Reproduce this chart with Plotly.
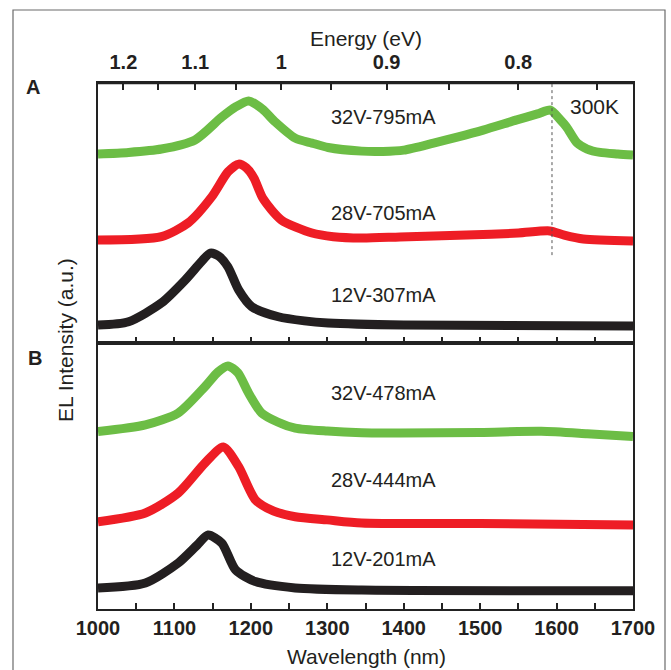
import plotly.graph_objects as go

# ---------------- data (offset-stacked EL intensity, a.u.) ----------------
# Panel A
a_green_x = [1000, 1040, 1083, 1127, 1162, 1180, 1197, 1215, 1232, 1258, 1280, 1301, 1345, 1373, 1400,
             1439, 1470, 1504, 1548, 1575, 1592, 1605, 1613, 1627, 1640, 1657, 1680, 1700]
a_green_y = [72.7, 73.3, 74.6, 78.1, 86.9, 90.8, 93.1, 90.0, 85.0, 78.8, 76.9, 75.2, 73.8, 73.7, 74.2,
             76.9, 79.2, 81.9, 85.8, 88.1, 89.6, 85.8, 83.1, 76.9, 74.6, 73.3, 72.7, 72.3]
a_red_x = [1000, 1083, 1118, 1149, 1170, 1184, 1194, 1204, 1216, 1240, 1280, 1308, 1345, 1395, 1482,
           1550, 1591, 1610, 1635, 1700]
a_red_y = [39.6, 40.9, 46.2, 56.3, 65.8, 68.8, 67.4, 63.5, 55.5, 47.3, 42.3, 40.9, 40.4, 40.8, 41.5,
           42.3, 43.1, 41.5, 40.0, 39.2]
a_black_x = [1000, 1040, 1083, 1114, 1135, 1147, 1158, 1170, 1184, 1201, 1236, 1270, 1301, 1400, 1700]
a_black_y = [6.9, 8.2, 15.4, 24.2, 31.2, 34.6, 33.4, 29.3, 20.4, 14.0, 10.1, 8.5, 7.7, 6.9, 6.5]

# Panel B
b_green_x = [1000, 1062, 1105, 1140, 1157, 1170, 1183, 1197, 1214, 1235, 1258, 1300, 1345, 1395, 1500,
             1580, 1640, 1700]
b_green_y = [66.7, 69.2, 73.7, 83.6, 89.1, 91.4, 88.8, 81.2, 73.7, 70.3, 68.0, 66.9, 66.3, 66.2, 66.4,
             66.8, 65.9, 64.8]
b_red_x = [1000, 1062, 1105, 1140, 1164, 1184, 1206, 1230, 1258, 1300, 1345, 1500, 1700]
b_red_y = [32.8, 36.1, 43.6, 54.9, 60.9, 53.5, 41.0, 36.8, 34.7, 33.5, 32.3, 32.1, 31.6]
b_black_x = [1000, 1062, 1105, 1130, 1144, 1162, 1180, 1206, 1258, 1345, 1700]
b_black_y = [7.9, 9.8, 17.3, 24.1, 27.8, 24.8, 14.7, 10.3, 7.9, 7.1, 6.9]

labels_a = ["32V-795mA", "28V-705mA", "12V-307mA"]
labels_a_y = [86.9, 50.0, 18.5]
labels_b = ["32V-478mA", "28V-444mA", "12V-201mA"]
labels_b_y = [81.2, 48.5, 18.8]
label_x = 1373

marker_wl = 1594          # dotted marker wavelength (nm)
marker_y = [33.8, 100]

wl_ticks = list(range(1000, 1701, 50))
wl_text = [str(v) if v % 100 == 0 else "" for v in wl_ticks]
energy_major = [1.2, 1.1, 1.0, 0.9, 0.8]
energy_major_text = ["1.2", "1.1", "1", "0.9", "0.8"]
energy_minor = [1.15, 1.05, 0.95, 0.85, 0.75]

# ---------------- styling ----------------
GREEN = "#6cbd45"
RED = "#ee1d25"
BLACK = "#231f20"
AX = "#222222"
FONT = "Liberation Sans, Arial, sans-serif"
HC = 1239.84

fig = go.Figure()

def add(x, y, color, xa, ya):
    fig.add_trace(go.Scatter(x=x, y=y, mode="lines", xaxis=xa, yaxis=ya,
                             line=dict(color=color, width=9, shape="spline", smoothing=0.7),
                             showlegend=False, hoverinfo="skip"))

add(a_green_x, a_green_y, GREEN, "x", "y")
add(a_red_x, a_red_y, RED, "x", "y")
add(a_black_x, a_black_y, BLACK, "x", "y")
add(b_green_x, b_green_y, GREEN, "x2", "y2")
add(b_red_x, b_red_y, RED, "x2", "y2")
add(b_black_x, b_black_y, BLACK, "x2", "y2")

# dotted marker line
fig.add_trace(go.Scatter(x=[marker_wl, marker_wl], y=marker_y, mode="lines", xaxis="x", yaxis="y",
                         line=dict(color="#555555", width=1, dash="dot"), showlegend=False,
                         hoverinfo="skip"))
# invisible traces so the energy overlay axes get drawn
fig.add_trace(go.Scatter(x=[marker_wl], y=[marker_y[0]], mode="markers", xaxis="x3", yaxis="y",
                         marker=dict(opacity=0, size=1), showlegend=False, hoverinfo="skip"))
fig.add_trace(go.Scatter(x=[marker_wl], y=[marker_y[0]], mode="markers", xaxis="x4", yaxis="y",
                         marker=dict(opacity=0, size=1), showlegend=False, hoverinfo="skip"))

split = 266 / 526
common_x = dict(range=[1000, 1700], showline=True, linecolor=AX, linewidth=2,
                showgrid=False, zeroline=False, ticks="inside", ticklen=6, tickwidth=1.5,
                tickcolor=AX, tickvals=wl_ticks, ticktext=wl_text)

fig.update_layout(
    width=671, height=670,
    margin=dict(l=98, r=38, t=83, b=61),
    paper_bgcolor="white", plot_bgcolor="white",
    font=dict(family=FONT, color=BLACK),
    xaxis=dict(**common_x, domain=[0, 1], anchor="y", mirror=True, showticklabels=False),
    yaxis=dict(domain=[split, 1], range=[0, 100], anchor="x", showline=True, linecolor=AX,
               linewidth=2, mirror=True, showticklabels=False, ticks="", showgrid=False,
               zeroline=False),
    xaxis2=dict(**common_x, domain=[0, 1], anchor="y2", mirror=True, showticklabels=True,
                tickfont=dict(size=20, family=FONT, weight="bold", color=BLACK)),
    yaxis2=dict(domain=[0, split], range=[0, 100], anchor="x2", showline=True, linecolor=AX,
                linewidth=2, mirror=True, showticklabels=False, ticks="", showgrid=False,
                zeroline=False),
    xaxis3=dict(overlaying="x", side="top", anchor="y", range=[1000, 1700],
                tickvals=[HC / e for e in energy_major], ticktext=energy_major_text,
                ticks="inside", ticklen=7, tickwidth=1.5, tickcolor=AX, showgrid=False,
                zeroline=False, showline=True, linecolor=AX, linewidth=2,
                ticklabelstandoff=4,
                tickfont=dict(size=20, family=FONT, weight="bold", color=BLACK)),
    xaxis4=dict(overlaying="x", side="top", anchor="y", range=[1000, 1700],
                tickvals=[HC / e for e in energy_minor], showticklabels=False,
                ticks="inside", ticklen=7, tickwidth=1.5, tickcolor=AX, showgrid=False,
                zeroline=False, showline=False),
)

ann = []
for t, yv in zip(labels_a, labels_a_y):
    ann.append(dict(x=label_x, y=yv, xref="x", yref="y", text=t, showarrow=False,
                    font=dict(size=20, family=FONT, color=BLACK)))
for t, yv in zip(labels_b, labels_b_y):
    ann.append(dict(x=label_x, y=yv, xref="x2", yref="y2", text=t, showarrow=False,
                    font=dict(size=20, family=FONT, color=BLACK)))
ann.append(dict(x=1649, y=90.8, xref="x", yref="y", text="300K", showarrow=False,
                font=dict(size=21, family=FONT, color=BLACK)))


def pann(px, py, text, size=21, angle=0):
    ann.append(dict(x=(px - 98) / 535, y=(609 - py) / 526, xref="paper", yref="paper",
                    xanchor="center", yanchor="middle", text=text, textangle=angle,
                    showarrow=False, font=dict(size=size, family=FONT, color=BLACK)))


pann(366, 39, "Energy (eV)")
pann(366, 656, "Wavelength (nm)")
pann(65, 340, "EL Intensity (a.u.)", angle=-90)
pann(33, 87, "<b>A</b>", size=20)
pann(35, 358, "<b>B</b>", size=20)
fig.update_layout(annotations=ann)

# outer figure frame
fig.add_shape(type="rect", xref="paper", yref="paper",
              x0=(13 - 98) / 535, x1=(665 - 98) / 535, y0=(609 - 680) / 526, y1=(609 - 10) / 526,
              line=dict(color="#6b6b6b", width=1.2), fillcolor="rgba(0,0,0,0)", layer="below")
# top frame edge of panel A
fig.add_shape(type="line", xref="paper", yref="paper", x0=0, x1=1, y0=1, y1=1,
              line=dict(color=AX, width=2.5), layer="above")

fig.write_html("out.html")
